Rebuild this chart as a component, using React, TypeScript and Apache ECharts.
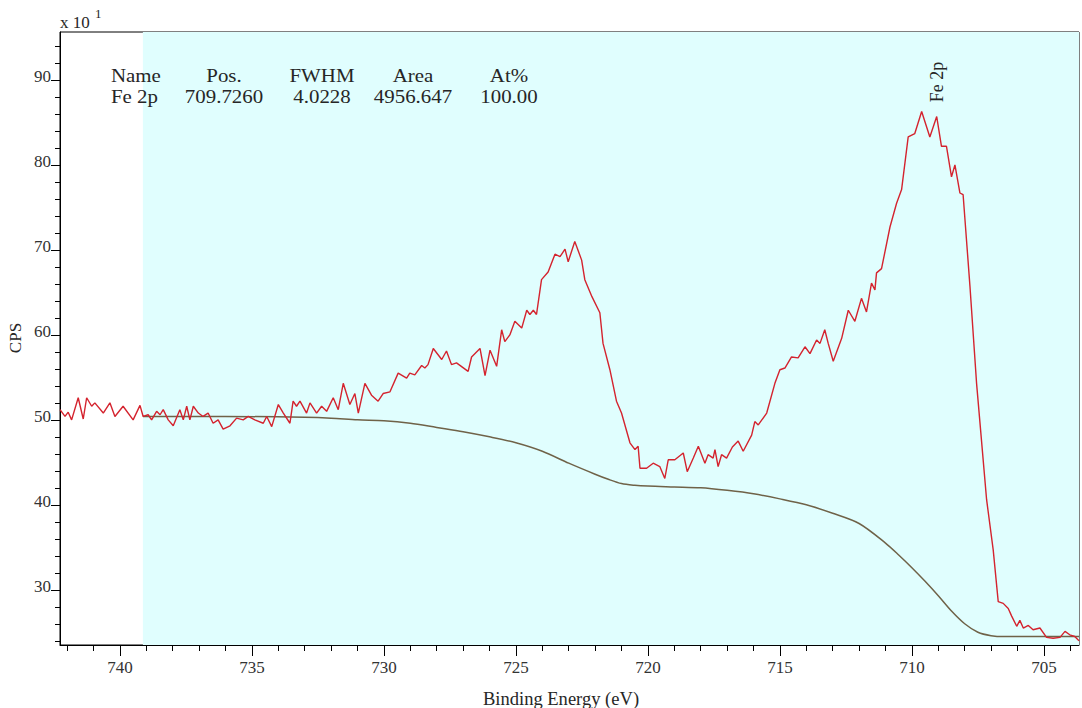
import React, { useEffect, useRef } from "react";
import * as echarts from "echarts";

// Fe 2p XPS region: binding energy (eV) and counts (x10 CPS)
const bindingEnergy = [
  742.27, 742.08, 741.96, 741.83, 741.58, 741.39, 741.26, 741.07, 740.95, 740.63,
  740.38, 740.19, 739.88, 739.5, 739.24, 739.12, 738.93, 738.8, 738.61, 738.48,
  738.36, 738.17, 737.98, 737.73, 737.6, 737.47, 737.35, 737.22, 737.03, 736.85,
  736.66, 736.47, 736.28, 736.09, 735.83, 735.58, 735.33, 735.14, 734.89, 734.57,
  734.44, 734.25, 734.0, 733.81, 733.56, 733.44, 733.31, 733.18, 732.93, 732.8,
  732.55, 732.36, 732.17, 731.92, 731.73, 731.54, 731.29, 731.1, 730.97, 730.72,
  730.47, 730.22, 730.03, 729.77, 729.46, 729.14, 729.02, 728.83, 728.57, 728.45,
  728.33, 728.13, 727.81, 727.63, 727.44, 727.25, 726.81, 726.68, 726.36, 726.17,
  725.98, 725.73, 725.54, 725.42, 725.23, 725.04, 724.78, 724.59, 724.47, 724.34,
  724.22, 724.03, 723.78, 723.52, 723.33, 723.14, 723.02, 722.77, 722.64, 722.51,
  722.39, 722.12, 721.82, 721.7, 721.44, 721.19, 721.0, 720.68, 720.49, 720.37,
  720.3, 720.05, 719.8, 719.55, 719.36, 719.23, 718.98, 718.66, 718.51, 718.28,
  718.09, 717.84, 717.72, 717.53, 717.46, 717.34, 717.21, 717.02, 716.8, 716.58,
  716.39, 716.07, 715.95, 715.82, 715.5, 715.19, 715.0, 714.81, 714.56, 714.31,
  714.05, 713.86, 713.61, 713.48, 713.3, 713.17, 712.98, 712.66, 712.41, 712.16,
  711.91, 711.72, 711.53, 711.4, 711.34, 711.15, 710.83, 710.58, 710.39, 710.14,
  709.89, 709.63, 709.32, 709.06, 708.88, 708.69, 708.5, 708.37, 708.18, 708.06,
  707.8, 707.55, 707.17, 706.92, 706.73, 706.54, 706.35, 706.22, 706.03, 705.91,
  705.78, 705.59, 705.41, 705.15, 704.9, 704.65, 704.39, 704.2, 704.02, 703.83,
  703.67,
];
const counts = [
  51.2, 50.4, 50.9, 50.0, 52.6, 50.1, 52.6, 51.6, 52.0, 50.8,
  52.0, 50.4, 51.6, 50.0, 51.7, 50.4, 50.6, 50.0, 51.0, 50.6,
  51.2, 50.0, 49.3, 51.2, 50.0, 51.6, 50.0, 51.6, 50.8, 50.4,
  50.8, 49.6, 50.0, 48.9, 49.3, 50.2, 50.0, 50.4, 50.0, 49.6,
  50.4, 49.2, 51.8, 50.8, 49.6, 52.2, 51.6, 52.2, 50.8, 52.0,
  50.8, 51.6, 51.0, 52.6, 51.2, 54.3, 51.8, 53.1, 50.8, 54.3,
  52.9, 52.2, 53.1, 53.3, 55.5, 54.9, 55.5, 55.3, 56.4, 56.1,
  56.5, 58.4, 57.1, 58.1, 56.5, 56.7, 55.7, 57.4, 58.4, 55.2,
  58.2, 56.3, 60.6, 59.2, 60.0, 61.6, 60.8, 62.9, 62.4, 62.9,
  62.4, 66.5, 67.4, 69.5, 69.2, 70.1, 68.6, 71.0, 69.9, 68.8,
  66.5, 64.5, 62.6, 59.0, 55.9, 52.2, 50.8, 47.3, 46.5, 46.9,
  44.3, 44.3, 44.9, 44.5, 43.1, 45.3, 45.3, 46.1, 43.9, 45.5,
  46.9, 44.9, 45.9, 45.5, 46.5, 44.5, 45.9, 45.5, 46.8, 47.5,
  46.3, 48.2, 49.8, 49.4, 50.8, 54.3, 55.9, 56.1, 57.4, 57.3,
  58.6, 57.8, 59.4, 59.0, 60.6, 59.0, 56.9, 59.6, 62.9, 61.6,
  64.3, 62.7, 66.1, 65.3, 67.3, 67.8, 72.7, 75.5, 77.1, 83.3,
  83.7, 86.3, 83.3, 85.7, 82.2, 82.2, 78.6, 80.0, 76.7, 76.5,
  65.7, 54.3, 40.6, 34.7, 28.6, 28.4, 27.8, 26.9, 25.7, 26.4,
  25.5, 25.8, 25.3, 25.5, 24.4, 24.3, 24.4, 25.1, 24.7, 24.5,
  24.0,
];

// Shirley background under the fitted region
const backgroundEnergy = [
  739.13, 736.0, 733.0, 732.0, 731.0, 730.0, 729.0, 728.0, 727.0, 726.0,
  725.0, 724.0, 723.0, 722.0, 721.5, 721.0, 720.5, 720.0, 719.0, 718.0,
  717.0, 716.0, 715.0, 714.0, 713.0, 712.0, 711.0, 710.5, 710.0, 709.5,
  709.0, 708.5, 708.0, 707.5, 707.0, 706.5, 703.67,
];
const backgroundCounts = [
  50.4, 50.4, 50.3, 50.2, 50.0, 49.9, 49.6, 49.1, 48.6, 48.0,
  47.3, 46.3, 44.9, 43.6, 43.0, 42.5, 42.3, 42.2, 42.1, 42.0,
  41.7, 41.3, 40.7, 40.0, 39.0, 37.8, 35.5, 34.1, 32.6, 31.0,
  29.3, 27.5, 26.0, 25.0, 24.6, 24.5, 24.5,
];

// Fitted region limits (eV)
const regionStart = 739.13;
const regionEnd = 703.67;

// Axis ranges and ticks
const xRange = [703.67, 742.27];
const yRange = [23.5, 95.65];
const xTicks = [
  704, 705, 706, 707, 708, 709, 710, 711, 712, 713, 714, 715, 716, 717, 718, 719, 720,
  721, 722, 723, 724, 725, 726, 727, 728, 729, 730, 731, 732, 733, 734, 735, 736, 737,
  738, 739, 740, 741, 742,
];
const xLabels = [705, 710, 715, 720, 725, 730, 735, 740];
const yTicks = [
  24, 26, 28, 30, 32, 34, 36, 38, 40, 42, 44, 46, 48, 50, 52, 54, 56, 58, 60, 62, 64,
  66, 68, 70, 72, 74, 76, 78, 80, 82, 84, 86, 88, 90, 92, 94,
];
const yLabels = [30, 40, 50, 60, 70, 80, 90];

// Quantification table
const tableHeader = ["Name", "Pos.", "FWHM", "Area", "At%"];
const tableRow = ["Fe 2p", "709.7260", "4.0228", "4956.647", "100.00"];
const peakName = "Fe 2p";

const SERIF = '"Liberation Serif", "Times New Roman", serif';
const INK = "#262626";

export default function App() {
  const ref = useRef<HTMLDivElement>(null);

  useEffect(() => {
    if (!ref.current) return;
    const chart = echarts.init(ref.current, undefined, { renderer: "svg" });

    const spectrum = bindingEnergy.map((e, i) => [e, counts[i]]);
    const background = backgroundEnergy.map((e, i) => [e, backgroundCounts[i]]);

    const colX = [111, 224, 322, 413, 509];
    const colAlign = ["left", "center", "center", "center", "center"];
    const tableTexts: any[] = [];
    [tableHeader, tableRow].forEach((row, r) => {
      row.forEach((t, c) => {
        tableTexts.push({
          type: "text",
          x: colX[c],
          y: r === 0 ? 75 : 96,
          scaleX: 1.1,
          z: 100,
          style: {
            text: t,
            font: `19px ${SERIF}`,
            fill: INK,
            align: colAlign[c],
            verticalAlign: "middle",
          },
        });
      });
    });

    const sharedX = {
      type: "value",
      min: xRange[0],
      max: xRange[1],
      inverse: true,
      position: "bottom",
      splitLine: { show: false },
    };
    const sharedY = {
      type: "value",
      min: yRange[0],
      max: yRange[1],
      position: "left",
      splitLine: { show: false },
    };

    chart.setOption({
      animation: false,
      backgroundColor: "#ffffff",
      grid: {
        left: 60,
        right: 3,
        top: 32,
        bottom: 63,
        show: true,
        backgroundColor: "#ffffff",
        borderColor: "#000000",
        borderWidth: 1,
      },
      xAxis: [
        {
          ...sharedX,
          axisLine: { show: true, lineStyle: { color: "#000", width: 1 } },
          axisTick: {
            show: true,
            length: 6,
            customValues: xTicks,
            lineStyle: { color: "#000", width: 1 },
          },
          axisLabel: {
            show: true,
            customValues: xLabels,
            fontFamily: SERIF,
            fontSize: 17,
            color: "#333",
            margin: 14,
          },
        },
        {
          ...sharedX,
          axisLine: { show: false },
          axisTick: {
            show: true,
            length: 11,
            customValues: xLabels,
            lineStyle: { color: "#000", width: 1 },
          },
          axisLabel: { show: false },
        },
      ],
      yAxis: [
        {
          ...sharedY,
          axisLine: { show: true, lineStyle: { color: "#000", width: 1 } },
          axisTick: {
            show: true,
            length: 5,
            customValues: yTicks,
            lineStyle: { color: "#000", width: 1 },
          },
          axisLabel: {
            show: true,
            customValues: yLabels,
            fontFamily: SERIF,
            fontSize: 17,
            color: "#333",
            margin: 9,
            verticalAlign: "bottom",
            lineHeight: 7,
          },
        },
        {
          ...sharedY,
          axisLine: { show: false },
          axisTick: {
            show: true,
            length: 9,
            customValues: yLabels,
            lineStyle: { color: "#000", width: 1 },
          },
          axisLabel: { show: false },
        },
      ],
      series: [
        {
          name: "Background",
          type: "line",
          xAxisIndex: 0,
          yAxisIndex: 0,
          data: background,
          symbol: "none",
          smooth: 0.3,
          z: 2,
          lineStyle: { color: "#6f6248", width: 1.5 },
          silent: true,
          markArea: {
            silent: true,
            itemStyle: { color: "#e0fefe" },
            data: [[{ xAxis: regionStart }, { xAxis: regionEnd }]],
          },
        },
        {
          name: peakName,
          type: "line",
          xAxisIndex: 0,
          yAxisIndex: 0,
          data: spectrum,
          symbol: "none",
          z: 3,
          lineStyle: { color: "#d4232e", width: 1.4 },
          silent: true,
        },
      ],
      graphic: [
        {
          type: "text",
          x: 60,
          y: 22,
          z: 100,
          style: { text: "x 10", font: `17px ${SERIF}`, fill: INK, verticalAlign: "middle" },
        },
        {
          type: "text",
          x: 95,
          y: 13,
          z: 100,
          style: { text: "1", font: `13px ${SERIF}`, fill: INK, verticalAlign: "middle" },
        },
        {
          type: "text",
          x: 15,
          y: 338,
          z: 100,
          rotation: Math.PI / 2,
          style: {
            text: "CPS",
            font: `17px ${SERIF}`,
            fill: INK,
            align: "center",
            verticalAlign: "middle",
          },
        },
        {
          type: "text",
          x: 561,
          y: 699,
          z: 100,
          scaleX: 1.03,
          style: {
            text: "Binding Energy (eV)",
            font: `18px ${SERIF}`,
            fill: INK,
            align: "center",
            verticalAlign: "middle",
          },
        },
        {
          type: "text",
          x: 937,
          y: 82,
          z: 100,
          rotation: Math.PI / 2,
          style: {
            text: peakName,
            font: `18px ${SERIF}`,
            fill: INK,
            align: "center",
            verticalAlign: "middle",
          },
        },
        ...tableTexts,
      ],
    });

    return () => chart.dispose();
  }, []);

  return (
    <div
      ref={ref}
      style={{ position: "fixed", left: 0, top: 0, width: 1082, height: 708 }}
    />
  );
}
